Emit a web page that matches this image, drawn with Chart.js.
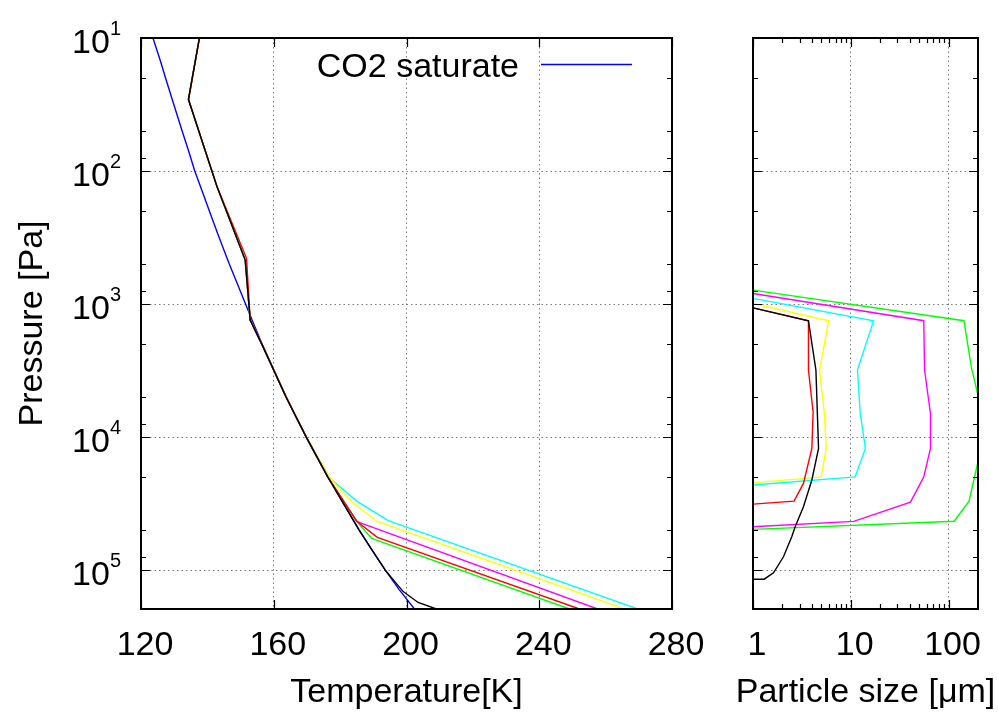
<!DOCTYPE html>
<html>
<head>
<meta charset="utf-8">
<script src="https://cdn.jsdelivr.net/npm/chart.js@4.4.1/dist/chart.umd.min.js"></script>
<style>
    body { margin: 0; background: #fff; }
    #wrap { position: relative; width: 998px; height: 713px; }
    canvas { position: absolute; top: 0; }
</style>
</head>
<body>
<div id="wrap">
    <canvas id="tempChart" width="720" height="713" style="left:0"></canvas>
    <canvas id="sizeChart" width="278" height="713" style="left:720px"></canvas>
</div>
<script>
// ---- left panel: temperature [K] vs pressure [Pa] ----
var satP = [10, 15, 20, 30, 50, 70, 100, 150, 200, 300, 500, 700, 1000, 1400, 2000, 3000, 5000, 7000, 10000, 14000, 20000, 30000, 50000, 70000, 100000, 140000, 196000];
var satT = [123.6, 125.9, 127.4, 129.6, 132.4, 134.3, 136.2, 138.8, 140.6, 143.2, 146.6, 149.0, 151.5, 153.9, 156.5, 159.7, 163.8, 166.6, 169.8, 172.9, 176.4, 180.5, 185.8, 189.5, 193.6, 197.8, 202.4];

var blackP = [10, 29, 131, 467, 1320, 2000, 5000, 10000, 20000, 50000, 100000, 145000, 175000, 196000];
var blackT = [137.6, 134.3, 142.9, 151.4, 152.9, 156.4, 163.7, 169.8, 176.3, 185.7, 193.6, 199.0, 203.5, 209.0];

var redP = [10, 29, 131, 453, 1320, 2000, 5000, 10000, 20000, 42900, 56700, 196000];
var redT = [137.6, 134.3, 142.9, 151.8, 152.9, 156.4, 163.7, 169.8, 176.3, 185.0, 191.2, 252.1];

var greenP = [10, 29, 131, 467, 1320, 2000, 5000, 10000, 20000, 42900, 57800, 196000];
var greenT = [137.6, 134.3, 142.9, 151.4, 152.9, 156.4, 163.7, 169.8, 176.3, 185.0, 189.5, 249.1];

var magentaP = [10, 29, 131, 467, 1320, 2000, 5000, 10000, 20000, 42900, 44600, 196000];
var magentaT = [137.6, 134.3, 142.9, 151.4, 152.9, 156.4, 163.7, 169.8, 176.3, 185.0, 186.5, 257.6];

var yellowP = [10, 29, 131, 467, 1320, 2000, 5000, 10000, 20500, 30600, 42900, 196000];
var yellowT = [137.6, 134.3, 142.9, 151.4, 152.9, 156.4, 163.7, 169.8, 177.0, 183.5, 191.0, 265.7];

var cyanP = [10, 29, 131, 467, 1320, 2000, 5000, 10000, 20500, 30300, 42500, 196000];
var cyanT = [137.6, 134.3, 142.9, 151.4, 152.9, 156.4, 163.7, 169.8, 177.0, 185.0, 194.5, 269.7];

// ---- right panel: particle size [um] vs pressure [Pa] ----
var blackSizeP = [1067, 1334, 3134, 12170, 21000, 33400, 47200, 56200, 79400, 104700, 117000, 117000];
var blackSizeR = [1.0, 3.69, 4.40, 4.68, 4.0, 3.28, 2.70, 2.49, 2.05, 1.62, 1.30, 1.0];

var redSizeP = [1067, 1334, 3134, 6500, 12170, 22300, 30300, 31900];
var redSizeR = [1.0, 3.69, 3.69, 4.12, 4.0, 3.28, 2.63, 1.0];

var yellowSizeP = [990, 1334, 3134, 6640, 12170, 19900, 22100];
var yellowSizeR = [1.0, 5.94, 4.80, 5.36, 5.61, 4.98, 1.0];

var cyanSizeP = [906, 1334, 3134, 6640, 12170, 19900, 22900];
var cyanSizeR = [1.0, 17.1, 11.7, 12.5, 14.1, 11.1, 1.0];

var magentaSizeP = [832, 1334, 3134, 6640, 12170, 19900, 30800, 43000, 47200];
var magentaSizeR = [1.0, 55.8, 56.8, 65.3, 65.3, 55.8, 40.8, 10.7, 1.0];

var greenSizeP = [786, 1334, 3050, 8500, 30300, 42900, 49400];
var greenSizeR = [1.0, 143.6, 172, 240, 162, 114, 1.0];

// ---- axes ----
var pressureTicks = [10, 100, 1000, 10000, 100000];
var pressureExp = ['1', '2', '3', '4', '5'];
var pressureMinor = [20, 50, 80, 200, 500, 800, 2000, 5000, 8000, 20000, 50000, 80000];
var tempTicks = [120, 160, 200, 240, 280];
var sizeTicks = [1, 10, 100];
var sizeMinor = [2, 3, 4, 5, 6, 7, 8, 9, 20, 30, 40, 50, 60, 70, 80, 90];

var FONT = '"Liberation Sans", Arial, Helvetica, sans-serif';

function pts(xs, ys) {
    return xs.map(function (x, i) { return { x: x, y: ys[i] }; });
}

function line(label, color, data) {
    return {
        label: label,
        data: data,
        borderColor: color,
        borderWidth: 1.4,
        pointRadius: 0,
        showLine: true,
        fill: false,
        tension: 0
    };
}

// gnuplot style: frame, inward mirrored ticks, labels, titles
var gnuplotFrame = {
    id: 'gnuplotFrame',
    afterDatasetsDraw: function (chart, args, o) {
        var ctx = chart.ctx, a = chart.chartArea;
        var xs = chart.scales.x, ys = chart.scales.y;
        ctx.save();
        ctx.strokeStyle = '#000';
        ctx.lineWidth = 1.2;
        ctx.beginPath();
        function tx(v, len) {
            var x = Math.round(xs.getPixelForValue(v)) + 0.5;
            ctx.moveTo(x, a.bottom); ctx.lineTo(x, a.bottom - len);
            ctx.moveTo(x, a.top); ctx.lineTo(x, a.top + len);
        }
        function ty(v, len) {
            var y = Math.round(ys.getPixelForValue(v)) + 0.5;
            ctx.moveTo(a.left, y); ctx.lineTo(a.left + len, y);
            ctx.moveTo(a.right, y); ctx.lineTo(a.right - len, y);
        }
        o.xMajor.forEach(function (v) { tx(v, 9); });
        (o.xMinor || []).forEach(function (v) { tx(v, 5); });
        pressureTicks.forEach(function (v) { ty(v, 9); });
        pressureMinor.forEach(function (v) { ty(v, 5); });
        ctx.stroke();

        ctx.lineWidth = 2;
        ctx.strokeRect(a.left, a.top, a.right - a.left, a.bottom - a.top);

        ctx.fillStyle = '#000';
        ctx.font = '34px ' + FONT;
        ctx.textAlign = 'center';
        ctx.textBaseline = 'alphabetic';
        o.xMajor.forEach(function (v, i) {
            ctx.fillText(o.xText[i], xs.getPixelForValue(v) + 4, 655);
        });
        ctx.fillText(o.xTitle, (a.left + a.right) / 2, 702);

        if (o.yLabels) {
            pressureTicks.forEach(function (v, i) {
                var y = ys.getPixelForValue(v);
                ctx.font = '20px ' + FONT;
                var sw = ctx.measureText(pressureExp[i]).width;
                ctx.textAlign = 'left';
                ctx.fillText(pressureExp[i], 121 - sw, y - 3);
                ctx.font = '34px ' + FONT;
                ctx.textAlign = 'right';
                ctx.fillText('10', 121 - sw, y + 15);
            });
            ctx.save();
            ctx.translate(42, (a.top + a.bottom) / 2);
            ctx.rotate(-Math.PI / 2);
            ctx.textAlign = 'center';
            ctx.font = '34px ' + FONT;
            ctx.fillText(o.yTitle, 0, 0);
            ctx.restore();
        }

        if (o.legend) {
            ctx.font = '34px ' + FONT;
            ctx.textAlign = 'right';
            ctx.fillText(o.legend, 519, 77);
            ctx.strokeStyle = '#0000ff';
            ctx.lineWidth = 1.4;
            ctx.beginPath();
            ctx.moveTo(541, 64.5);
            ctx.lineTo(632, 64.5);
            ctx.stroke();
        }
        ctx.restore();
    }
};

function yAxis() {
    return {
        type: 'logarithmic',
        reverse: true,
        min: 10,
        max: 196000,
        afterBuildTicks: function (s) { s.ticks = pressureTicks.map(function (v) { return { value: v }; }); },
        afterFit: function (s) { s.width = 0; },
        ticks: { display: false },
        grid: { color: '#7a7a7a', lineWidth: 1, drawTicks: false },
        border: { display: false, dash: [1.5, 3] }
    };
}

new Chart(document.getElementById('tempChart').getContext('2d'), {
    type: 'scatter',
    data: {
        datasets: [
            line('black', '#000000', pts(blackT, blackP)),
            line('red', '#ff0000', pts(redT, redP)),
            line('green', '#00ff00', pts(greenT, greenP)),
            line('magenta', '#ff00ff', pts(magentaT, magentaP)),
            line('yellow', '#ffff00', pts(yellowT, yellowP)),
            line('cyan', '#00ffff', pts(cyanT, cyanP)),
            line('CO2 saturate', '#0000ff', pts(satT, satP))
        ]
    },
    options: {
        responsive: false,
        animation: false,
        layout: { padding: { left: 141, right: 48, top: 38, bottom: 104 } },
        plugins: {
            legend: { display: false },
            tooltip: { enabled: false },
            gnuplotFrame: {
                xMajor: tempTicks,
                xText: ['120', '160', '200', '240', '280'],
                xTitle: 'Temperature[K]',
                yLabels: true,
                yTitle: 'Pressure [Pa]',
                legend: 'CO2 saturate'
            }
        },
        scales: {
            x: {
                type: 'linear',
                min: 120,
                max: 280,
                afterBuildTicks: function (s) { s.ticks = tempTicks.map(function (v) { return { value: v }; }); },
                afterFit: function (s) { s.height = 0; },
                ticks: { display: false },
                grid: { color: '#7a7a7a', lineWidth: 1, drawTicks: false },
                border: { display: false, dash: [1.5, 3] }
            },
            y: yAxis()
        }
    },
    plugins: [gnuplotFrame]
});

new Chart(document.getElementById('sizeChart').getContext('2d'), {
    type: 'scatter',
    data: {
        datasets: [
            line('black', '#000000', pts(blackSizeR, blackSizeP)),
            line('red', '#ff0000', pts(redSizeR, redSizeP)),
            line('yellow', '#ffff00', pts(yellowSizeR, yellowSizeP)),
            line('cyan', '#00ffff', pts(cyanSizeR, cyanSizeP)),
            line('magenta', '#ff00ff', pts(magentaSizeR, magentaSizeP)),
            line('green', '#00ff00', pts(greenSizeR, greenSizeP))
        ]
    },
    options: {
        responsive: false,
        animation: false,
        layout: { padding: { left: 33, right: 20, top: 38, bottom: 104 } },
        plugins: {
            legend: { display: false },
            tooltip: { enabled: false },
            gnuplotFrame: {
                xMajor: sizeTicks,
                xMinor: sizeMinor,
                xText: ['1', '10', '100'],
                xTitle: 'Particle size [\u03bcm]',
                yLabels: false
            }
        },
        scales: {
            x: {
                type: 'logarithmic',
                min: 1,
                max: 200,
                afterBuildTicks: function (s) { s.ticks = sizeTicks.map(function (v) { return { value: v }; }); },
                afterFit: function (s) { s.height = 0; },
                ticks: { display: false },
                grid: { color: '#7a7a7a', lineWidth: 1, drawTicks: false },
                border: { display: false, dash: [1.5, 3] }
            },
            y: yAxis()
        }
    },
    plugins: [gnuplotFrame]
});
</script>
</body>
</html>
